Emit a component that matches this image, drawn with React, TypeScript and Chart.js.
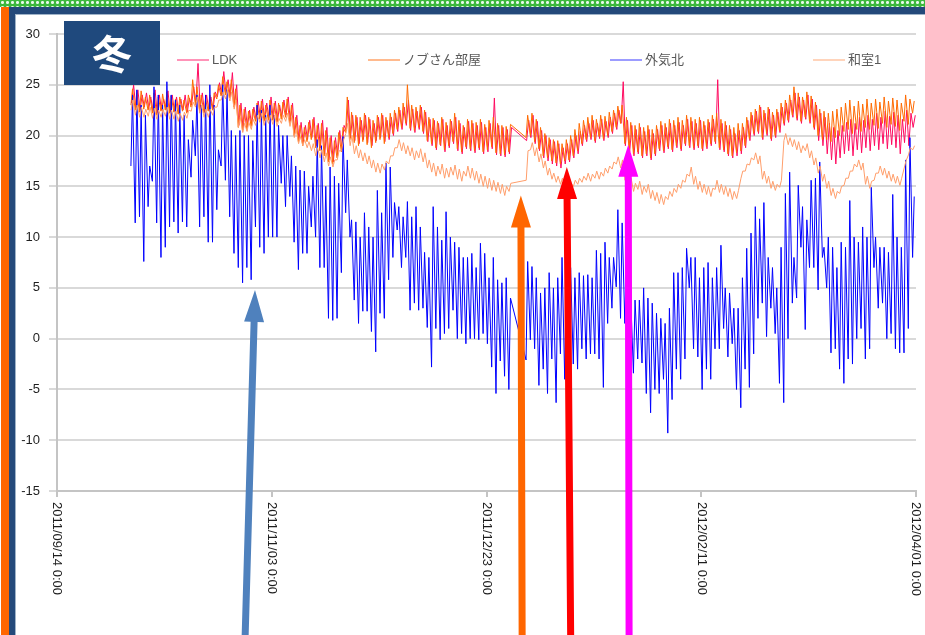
import React, { useEffect, useRef } from 'react';
import { Chart, registerables } from 'chart.js';

Chart.register(...registerables);

// ---- axis / tick data ----
const FIRST_DAY = 17; // days since 2011/09/14 0:00 (first record: 2011/10/01)
// hour of day of each series' daily low / high reading: LDK, ノブさん部屋, 外気北, 和室1
const lowHours = [8, 5, 5, 6];
const highHours = [20, 14, 14, 16];
const xTickValues = [0, 50, 100, 150, 200];
const xTickLabels = ['2011/09/14 0:00', '2011/11/03 0:00', '2011/12/23 0:00', '2012/02/11 0:00', '2012/04/01 0:00'];
const yMin = -15;
const yMax = 30;
const yStep = 5;

const seriesNames = ['LDK', 'ノブさん部屋', '外気北', '和室1'];
const seriesColors = ['#FF0A60', '#FF6A00', '#0000FF', '#FF9E6B'];
const legendColors = ['#FF6FA0', '#FFA368', '#7B7BFF', '#FFC6A5'];
const seasonLabel = '冬';

const N = null;

// ---- LDK (daily high / low) ----
const ldkHigh = [
  25, 24.5, 24, 24.2, 23.8, 24.5, 24, 23.6, 24.4, 24,
  23.8, 23.6, 24, 23.7, 24.8, 27.1, 24.2, 24, 23.8, 24.3,
  25.2, 26.3, 25.5, 26.2, 25, 23.2, 22.8, 22.5, 22.8, 23.4,
  23.6, 23.2, 23.8, 23.4, 23, 23.5, 23.8, 23.2, 22, 21.3,
  21, 21.5, 21.8, 21.2, 21.5, 20.8, 20, 19.8, 20.5, 21,
  23.5, 22, 21.8, 21.5, 22, 21.6, 21.2, 21.8, 22, 21.5,
  21.8, 22.2, 22.5, 22.8, 23.5, 22.6, 22.4, 22.8, 22.3, 21.6,
  21.5, 21.2, 21.6, 21, 21.4, 21.8, 21.2, 20.8, 21.4, 21.2,
  21, 21.3, 20.8, 21.2, 23.7, 21, 20.8, 20.6, 20.8,
  N, N, N,
  21.5, 22, 21.4, 20.5, 20, 19.6, 19.4, 19.2, 18.8, 19.2,
  19.6, 20, 20.4, 21, 21.2, 21.5, 21.2, 21.6, 21.4, 21.8,
  22.2, 22.5, 25.3, 21.5, 21, 20.6, 20.8, 20.4, 20.6, 20.2,
  20.6, 21, 20.8, 21.2, 21, 21.3, 21, 21.6, 21.4, 21.2,
  21.5, 21, 21.3, 21.6, 25.5, 21.2, 21, 20.6, 20.2, 20.5,
  20.8, 21.5, 22, 22.4, 22.8, 22.2, 22.6, 22, 22.3, 22.8,
  23.2, 23.5, 24.2, 23.8, 23.5, 24, 23.6, 23, 22.2, 21.8,
  21.2, 20.8, 20.5, 21, 21.3, 21.6, 21.2, 21.8, 21.5, 22,
  21.6, 22.2, 21.8, 22.4, 21.9, 22.3, 22, 21.6, 22.5, 22.2, 22,
];
const ldkLow = [
  23.2, 22.8, 22.5, 22.8, 22.6, 22.4, 22.2, 22.5, 22.7, 22.3,
  22.4, 22.2, 22.5, 22.3, 23, 23.2, 22.6, 22.3, 22.5, 22.6,
  23.8, 24, 24.2, 23.8, 23, 21, 20.6, 20.8, 21, 21.6,
  21.8, 21.5, 21.7, 21.6, 21.4, 21.8, 22, 21.4, 20.2, 19.6,
  19.3, 19.6, 19.8, 19, 18.8, 18.2, 17.6, 17.4, 18, 18.6,
  20.5, 19.8, 19.5, 19.2, 19.6, 19.3, 19, 19.5, 19.8, 19.4,
  19.6, 20, 20.4, 20.6, 21, 20.5, 20.3, 20.6, 20.2, 19.4,
  19, 18.6, 19, 18.4, 18.8, 19.2, 18.5, 18.2, 18.7, 18.5,
  18.3, 18.6, 18.2, 18.4, 18.7, 18.1, 18, 17.9, 18.2,
  N, N, N,
  19.5, 19.8, 19.2, 18.5, 17.8, 17.5, 17.2, 17, 16.8, 17.2,
  17.4, 17.8, 18.2, 19, 19.4, 19.6, 19.3, 19.7, 19.5, 19.8,
  20.2, 20.6, 21.2, 19, 18.4, 18, 18.2, 17.8, 18, 17.6,
  18, 18.5, 18.3, 18.7, 18.4, 18.8, 18.5, 19, 18.8, 18.6,
  18.8, 18.5, 18.7, 19, 19.2, 18.6, 18.4, 18, 17.8, 18,
  18.2, 18.8, 19.5, 20, 20.2, 19.6, 20, 19.5, 19.8, 20.3,
  21, 21.3, 21.8, 21.5, 21.2, 21.6, 21.2, 20.6, 19.5, 19,
  18.2, 17.6, 17.2, 17.8, 18.2, 18.5, 18, 18.6, 18.3, 18.8,
  18.5, 19, 18.6, 19.2, 18.7, 19.1, 18.8, 18.2, 19.3, 19, 20.8,
];

// ---- ノブさん部屋 (daily high / low) ----
const nobuHigh = [
  24.6, 24.2, 24.4, 23.8, 24, 24.2, 23.8, 24.1, 24.3, 23.9,
  23.6, 23.8, 23.5, 24, 25.5, 24.8, 24, 23.6, 24, 24.2,
  25, 25.8, 25.3, 25.5, 24.6, 23, 22.6, 22.4, 22.6, 23.2,
  23.4, 23, 23.5, 23.2, 23.2, 23.3, 23.6, 23, 21.8, 21,
  20.8, 21.3, 21.6, 21, 21.2, 20.5, 19.8, 19.5, 20.3, 20.8,
  23.8, 22.3, 22, 21.8, 22.2, 21.8, 21.5, 22, 22.2, 21.8,
  22.2, 22.5, 22.8, 23.2, 25, 23, 22.8, 23, 22.5, 21.8,
  21.7, 21.4, 21.8, 21.3, 21.6, 22.2, 21.5, 21, 21.6, 21.5,
  21.3, 21.6, 21.1, 21.5, 21.8, 21.2, 21, 20.9, 21.1,
  N, N, N,
  22, 22.2, 21.6, 20.8, 20.2, 19.8, 19.6, 19.5, 19.2, 19.6,
  20, 20.6, 21.2, 21.5, 21.8, 22, 21.6, 22, 21.9, 22.3,
  22.5, 22.9, 23, 21.8, 21.3, 21, 21.2, 20.8, 21, 20.6,
  21, 21.4, 21.2, 21.6, 21.5, 21.8, 21.5, 22, 21.8, 21.6,
  21.8, 21.4, 21.6, 22, 22.2, 21.6, 21.4, 21, 20.8, 21.2,
  21.2, 21.8, 22.3, 22.6, 23, 22.5, 22.8, 22.3, 22.6, 23.2,
  23.5, 24, 24.8, 24.2, 23.8, 24.3, 23.9, 23.3, 22.6, 22.4,
  22.2, 22.4, 22.6, 22.8, 23.2, 23.5, 22.9, 23.4, 23.1, 23.6,
  23.2, 23.6, 23.3, 23.8, 23.4, 23.7, 23.5, 23.2, 24, 23.6, 23.4,
];
const nobuLow = [
  23, 22.5, 22.3, 22.6, 22.5, 22.2, 22, 22.4, 22.5, 22.2,
  22.3, 22.1, 22.4, 22.2, 22.8, 23, 22.4, 22.2, 22.4, 22.5,
  23.6, 23.9, 24, 23.7, 22.8, 20.8, 20.4, 20.5, 20.9, 21.4,
  21.6, 21.4, 21.5, 21.5, 21.3, 21.6, 21.8, 21.2, 20, 19.4,
  19, 19.4, 19.6, 18.8, 18.5, 18, 17.4, 17.2, 17.8, 18.4,
  20.3, 19.6, 19.3, 19, 19.4, 19.1, 18.8, 19.3, 19.6, 19.2,
  19.8, 20.2, 20.6, 20.8, 21.2, 20.7, 20.5, 20.8, 20.4, 19.5,
  19.2, 18.8, 19.1, 18.6, 19, 19.4, 18.7, 18.4, 18.9, 18.7,
  18.5, 18.8, 18.4, 18.6, 18.9, 18.3, 18.2, 18.1, 18.4,
  N, N, N,
  19.8, 20, 19.4, 18.7, 18, 17.8, 17.5, 17.3, 17.2, 17.5,
  17.6, 18, 18.5, 19.2, 19.6, 19.8, 19.5, 19.9, 19.7, 20,
  20.4, 20.8, 21.2, 19.2, 18.6, 18.2, 18.4, 18, 18.2, 17.8,
  18.2, 18.7, 18.5, 18.9, 18.6, 19, 18.7, 19.2, 19, 18.8,
  19, 18.7, 18.9, 19.2, 19.4, 18.8, 18.6, 18.2, 18, 18.3,
  18.5, 19, 19.7, 20.2, 20.4, 19.8, 20.2, 19.7, 20, 20.5,
  21.2, 21.5, 22, 21.7, 21.4, 21.8, 21.4, 20.8, 20, 19.6,
  19.6, 19.4, 19.8, 20, 20.4, 20.6, 20.2, 20.6, 20.4, 20.8,
  20.6, 21, 20.7, 21.2, 20.8, 21.1, 20.9, 20.5, 21.4, 21.1, 22.2,
];

// ---- 外気北 (daily high / low) ----
const outHigh = [
  24, 24.5, 23, 22, 17, 24.8, 24, 23, 25.3, 24,
  23.5, 23, 22, 19.6, 21.5, 24, 23, 24, 25, 23,
  18.6, 25, 24.5, 20.5, 20, 20.5, 20, 20, 19.5, 23,
  22.5, 22, 23, 22, 21, 20, 20, 18, 17, 16.6,
  16.5, 15, 16, 19.6, 19, 15, 16.9, 16, 15.3, 19.9,
  17.6, 11.7, 11.5, 10, 12.4, 11, 10, 14.6, 12.4, 17.3,
  16.9, 13.4, 13, 12, 13.5, 12, 13, 11, 8.5, 8,
  13, 11, 9.7, 12.5, 10, 9.5, 9, 8, 8, 8.4,
  7, 9.4, 8.4, 6, 8, 5.8, 5.5, 6, 4,
  N, N, N,
  7.6, 7.1, 6, 4.5, 5, 6.5, 5, 6, 8, 6.5,
  7, 6, 6.5, 6.2, 6.3, 6, 8.7, 8.4, 9.5, 8,
  8, 12.7, 11.4, 8, 4, 3.8, 3.8, 5, 4, 3.5,
  2.5, 2, 1.5, 3, 6.5, 6.5, 7, 8.9, 8, 8,
  6, 7, 7.5, 6, 7, 9.2, 5, 4.5, 3, 3,
  6, 8.9, 10.4, 13, 11.8, 13.4, 8, 7, 5, 9,
  14.3, 16.4, 8, 15.1, 13, 11.7, 15.6, 15.8, 17.4, 9,
  10, 9, 7, 9.5, 9, 13.6, 10, 9.5, 11, 10,
  14.9, 10, 9, 9, 8.5, 14.2, 10, 9, 17.6, 19.8, 14,
];
const outLow = [
  17, 11.4, 12, 7.6, 13, 15.5, 11.4, 8, 9, 11,
  11.5, 10.4, 11.5, 11, 15.9, 18, 11, 12, 9.5, 9.5,
  12.7, 17, 15.6, 12, 8.4, 7, 5.5, 7, 5.8, 11,
  9, 8.4, 10, 10, 10, 15.3, 13, 14, 9.5, 6.8,
  8.4, 8.4, 11, 10, 7, 7, 2, 1.8, 2, 6.5,
  12.4, 10, 3.8, 1.5, 2.7, 2.7, 0.7, -1.3, 2.5, 2,
  5.8, 8, 10.7, 7, 8, 2.8, 3.5, 2.8, 3, 1.1,
  -2.8, 1, -0.1, 0.5, 1, 2.8, 0, 0.5, -0.5, 0,
  0, -0.1, 0.5, -0.5, -2.8, -5.4, -2.2, -3.7, -5,
  N, N, N,
  -2.1, -0.1, -1, -4.6, -3, -5.4, -2, -6.3, -1.5, -4,
  -4.2, -2.5, -3, -1, -2, -1.5, -1.5, -2, -4.8, 1.5,
  3, 5.1, 2, 1.5, -1.8, -3.4, -2, -2.4, -5.4, -7.3,
  -5, -5.4, -4, -9.3, -6, -3, -4, -2, 5, -1,
  -1.8, -5, -3, -4, -1, -1, 1, -1.8, -0.5, -5,
  -6.8, -3, -4.8, -1.5, 2, 3.5, 0.2, 3, 0.5, -4.4,
  -6.3, 0, 3.5, 4, 9, 0.9, 7, 7, 4.8, 8,
  5, -1.4, -1, -3, -4.4, -2, -2.5, 0, 1, -2,
  -1, 7, 3, 3.5, 0, 0.5, -1, -1.4, -1.4, 1, 8,
];

// ---- 和室1 (daily high / low) ----
const washHigh = [
  23.5, 23, 22.8, 22.6, 22.8, 22.7, 22.5, 22.6, 22.8, 22.5,
  22.4, 22.2, 22.3, 22.5, 23.3, 23.8, 23, 22.6, 22.6, 22.8,
  23.5, 24.3, 24.5, 24.3, 23.5, 21.8, 21.2, 21.3, 21.6, 22,
  22.2, 21.8, 22, 22, 21.7, 22, 22.2, 21.8, 20.6, 19.9,
  19.6, 19.4, 19.2, 18.8, 18.6, 18.3, 17.9, 17.6, 18.5, 19.5,
  21.2, 20, 19, 18.6, 18.3, 18, 17.6, 17.3, 17.2, 17.5,
  18, 18.8, 19.6, 19.3, 19, 18.8, 18.5, 18.7, 18.3, 17.6,
  17.3, 17, 17.2, 16.8, 16.9, 17.1, 16.7, 16.5, 17, 16.8,
  16.5, 16.2, 16, 15.8, 15.6, 15.4, 15.2, 15, 15.3,
  N, N, N,
  18.5, 19.3, 18.8, 18.2, 17.5, 16.8, 16.3, 16, 15.8, 15.5,
  15.3, 15.6, 15.8, 16, 16.3, 16.2, 16.5, 16.4, 16.8, 17,
  17.4, 17.9, 17.6, 16.5, 15.8, 15.3, 15.5, 15, 15.2, 14.6,
  14.4, 14.2, 14, 14.5, 14.8, 15.2, 15.6, 16.2, 16.9, 16,
  15.5, 15.2, 15, 14.8, 15.6, 15.2, 15, 14.8, 14.5, 14.6,
  16.5, 17.2, 17.8, 18.3, 18, 16.5, 16, 15.5, 15.2, 15.6,
  20.2, 19.8, 19.6, 19.4, 19, 19.2, 18.5, 17.8, 17, 16.2,
  15.5, 14.8, 14.5, 15, 15.8, 16.5, 17.2, 17.6, 17.3, 16,
  15.5, 16.3, 17, 16.8, 16.5, 16.2, 16, 15.8, 17.5, 18.8, 19,
];
const washLow = [
  22.5, 22, 21.8, 21.8, 21.9, 21.7, 21.6, 21.8, 21.9, 21.6,
  21.6, 21.4, 21.5, 21.7, 22.4, 22.8, 22.2, 21.8, 21.8, 22,
  22.8, 23.5, 23.6, 23.4, 22.6, 20.8, 20.3, 20.4, 20.6, 21,
  21.3, 21, 21.2, 21.1, 20.9, 21.2, 21.4, 20.9, 19.8, 19.2,
  19, 18.8, 18.5, 18, 17.8, 17.4, 17, 16.9, 17.6, 18.5,
  20.2, 19, 18.2, 17.8, 17.5, 17.2, 16.8, 16.4, 16.3, 16.6,
  17.2, 18, 18.8, 18.5, 18.2, 18, 17.6, 17.8, 17.4, 16.8,
  16.4, 16, 16.2, 15.8, 15.9, 16.1, 15.7, 15.5, 16, 15.8,
  15.6, 15.3, 15, 14.8, 14.6, 14.5, 14.3, 14.1, 14.5,
  N, N, N,
  15.6, 18.6, 18, 17.4, 16.8, 16.1, 15.7, 15.4, 15.2, 15,
  14.7, 15, 15.2, 15.4, 15.6, 15.5, 15.8, 15.7, 16, 16.3,
  16.7, 17.2, 16.8, 15.6, 15, 14.5, 14.7, 14.2, 14.4, 13.8,
  13.6, 13.3, 13.2, 13.7, 14, 14.4, 14.8, 15.4, 16, 15.2,
  14.7, 14.4, 14.2, 14, 14.7, 14.4, 14.2, 14, 13.7, 13.8,
  15.8, 16.5, 17.1, 17.6, 17.2, 15.7, 15.3, 14.8, 14.6, 14.9,
  19.5, 19.1, 18.9, 18.6, 18.3, 18.5, 17.8, 17.1, 16.3, 15.5,
  14.8, 14.1, 13.8, 14.3, 15.1, 15.8, 16.5, 16.9, 16.6, 15.2,
  14.8, 15.6, 16.3, 16.1, 15.8, 15.5, 15.3, 15.1, 16.8, 18.1, 18.6,
];

// ---- annotation arrows (tip in data coordinates, tail at bottom edge) ----
const arrowTipDays = [46.1, 108.0, 118.7, 133.0];
const arrowTipValues = [4.8, 14.1, 16.9, 19.1];
const arrowTailDays = [43.8, 108.3, 119.6, 133.2];
const arrowColors = ['#4F81BD', '#FF6600', '#FF0000', '#FF00FF'];

// ---- layout constants ----
const W = 925;
const H = 635;
const FONT = "'Liberation Sans', Arial, 'Noto Sans CJK JP', sans-serif";
const legendXs = [177, 368, 610, 813];
const legendY = 60;

function buildPoints(low: (number | null)[], high: (number | null)[], lowHour: number, highHour: number) {
  const pts: { x: number; y: number | null }[] = [];
  for (let i = 0; i < low.length; i++) {
    const day = FIRST_DAY + i;
    pts.push({ x: day + lowHour / 24, y: low[i] });
    pts.push({ x: day + highHour / 24, y: high[i] });
  }
  return pts;
}

function drawArrow(ctx: CanvasRenderingContext2D, x0: number, y0: number, x1: number, y1: number, color: string) {
  const shaft = 7;
  const headW = 20;
  const headL = 32;
  const dx = x1 - x0;
  const dy = y1 - y0;
  const len = Math.sqrt(dx * dx + dy * dy);
  const ux = dx / len;
  const uy = dy / len;
  const px = -uy;
  const py = ux;
  const bx = x1 - ux * headL;
  const by = y1 - uy * headL;
  ctx.save();
  ctx.fillStyle = color;
  ctx.beginPath();
  ctx.moveTo(x0 + px * shaft / 2, y0 + py * shaft / 2);
  ctx.lineTo(bx + px * shaft / 2, by + py * shaft / 2);
  ctx.lineTo(bx + px * headW / 2, by + py * headW / 2);
  ctx.lineTo(x1, y1);
  ctx.lineTo(bx - px * headW / 2, by - py * headW / 2);
  ctx.lineTo(bx - px * shaft / 2, by - py * shaft / 2);
  ctx.lineTo(x0 - px * shaft / 2, y0 - py * shaft / 2);
  ctx.closePath();
  ctx.fill();
  ctx.restore();
}

const overlayPlugin = {
  id: 'overlay',
  afterDraw(chart: any) {
    const ctx: CanvasRenderingContext2D = chart.ctx;
    const xs = chart.scales.x;
    const ys = chart.scales.y;
    const area = chart.chartArea;

    // rotated x tick labels (reading top to bottom)
    ctx.save();
    ctx.font = `13px ${FONT}`;
    ctx.fillStyle = '#1e1e1e';
    ctx.textAlign = 'left';
    ctx.textBaseline = 'middle';
    xTickValues.forEach((v, i) => {
      const px = xs.getPixelForValue(v);
      ctx.save();
      ctx.translate(px, area.bottom + 11);
      ctx.rotate(Math.PI / 2);
      ctx.fillText(xTickLabels[i], 0, 0);
      ctx.restore();
    });
    ctx.restore();

    // legend
    ctx.save();
    ctx.font = `13px ${FONT}`;
    ctx.textAlign = 'left';
    ctx.textBaseline = 'middle';
    seriesNames.forEach((name, i) => {
      const lx = legendXs[i];
      ctx.strokeStyle = legendColors[i];
      ctx.lineWidth = 1.5;
      ctx.beginPath();
      ctx.moveTo(lx, legendY);
      ctx.lineTo(lx + 32, legendY);
      ctx.stroke();
      ctx.fillStyle = '#595959';
      ctx.fillText(name, lx + 35, legendY);
    });
    ctx.restore();

    // season label box
    ctx.save();
    ctx.fillStyle = '#1F497D';
    ctx.fillRect(64, 21, 96, 64);
    ctx.fillStyle = '#FFFFFF';
    ctx.font = `bold 40px 'Noto Sans CJK JP', sans-serif`;
    ctx.textAlign = 'center';
    ctx.textBaseline = 'middle';
    ctx.fillText(seasonLabel, 112, 54);
    ctx.restore();

    // arrows
    arrowTipDays.forEach((d, i) => {
      const tx = xs.getPixelForValue(d);
      const ty = ys.getPixelForValue(arrowTipValues[i]);
      const bx = xs.getPixelForValue(arrowTailDays[i]);
      drawArrow(ctx, bx, chart.height + 2, tx, ty, arrowColors[i]);
    });
  },
};

export default function App() {
  const canvasRef = useRef<HTMLCanvasElement | null>(null);

  useEffect(() => {
    if (!canvasRef.current) return;
    const lows = [ldkLow, nobuLow, outLow, washLow];
    const highs = [ldkHigh, nobuHigh, outHigh, washHigh];
    const orders = [4, 3, 2, 1];
    const datasets = seriesNames.map((name, i) => ({
      label: name,
      data: buildPoints(lows[i], highs[i], lowHours[i], highHours[i]),
      borderColor: seriesColors[i],
      order: orders[i],
      borderWidth: 1,
      pointRadius: 0,
      tension: 0,
      fill: false,
      spanGaps: true,
    }));

    const chart = new Chart(canvasRef.current, {
      type: 'line',
      data: { datasets } as any,
      options: {
        animation: false,
        responsive: false,
        devicePixelRatio: 1,
        layout: { padding: { top: 34, right: 9, left: 0, bottom: 0 } },
        plugins: { legend: { display: false }, tooltip: { enabled: false } },
        scales: {
          x: {
            type: 'linear',
            min: xTickValues[0],
            max: xTickValues[xTickValues.length - 1],
            afterBuildTicks: (s: any) => {
              s.ticks = xTickValues.map((v) => ({ value: v }));
            },
            ticks: { display: false },
            grid: { drawOnChartArea: false, drawTicks: true, tickLength: 6, color: '#c4c4c4', lineWidth: 2 },
            border: { display: true, color: '#c4c4c4', width: 2 },
            afterFit: (s: any) => {
              s.height = 144;
            },
          },
          y: {
            type: 'linear',
            min: yMin,
            max: yMax,
            ticks: { stepSize: yStep, padding: 9, color: '#1e1e1e', font: { size: 13, family: FONT } },
            grid: { color: '#d9d9d9', lineWidth: 2, tickLength: 8 },
            border: { display: true, color: '#c4c4c4', width: 2 },
            afterFit: (s: any) => {
              s.width = 57;
            },
          },
        },
      } as any,
      plugins: [overlayPlugin],
    });
    return () => chart.destroy();
  }, []);

  return (
    <div style={{ position: 'fixed', left: 0, top: 0, width: W, height: H, background: '#fff', overflow: 'hidden' }}>
      <canvas ref={canvasRef} width={W} height={H} style={{ position: 'absolute', left: 0, top: 0, width: W, height: H }} />
      {/* frame decorations */}
      <div
        style={{
          position: 'absolute', left: 0, top: 0, width: W, height: 7,
          backgroundColor: '#3DB83D',
          backgroundImage: 'radial-gradient(circle, #E8F9E8 1.2px, transparent 1.8px)',
          backgroundSize: '5px 5px',
        }}
      />
      <div style={{ position: 'absolute', left: 9, top: 7, width: W - 9, height: 7, background: '#24497A' }} />
      <div style={{ position: 'absolute', left: 15, top: 14, width: W - 15, height: 1, background: '#9fb3c8' }} />
      <div style={{ position: 'absolute', left: 1, top: 7, width: 8, height: H - 7, background: '#FF6600' }} />
      <div style={{ position: 'absolute', left: 9, top: 7, width: 6, height: H - 7, background: '#24497A' }} />
      <div style={{ position: 'absolute', left: 15, top: 14, width: 1, height: H - 14, background: '#9fb3c8' }} />
    </div>
  );
}
